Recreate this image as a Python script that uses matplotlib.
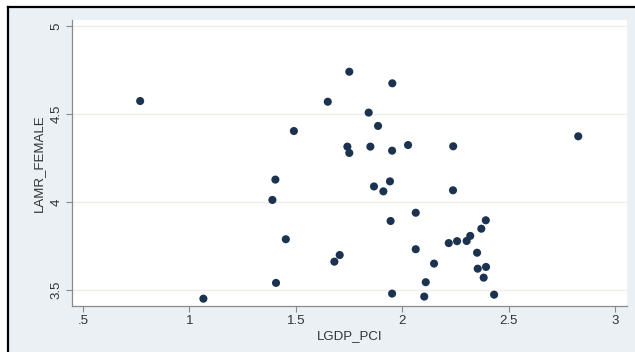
import matplotlib
matplotlib.use("Agg")
import matplotlib.pyplot as plt
from matplotlib.patches import Rectangle
from matplotlib.lines import Line2D

plt.rcParams['font.family'] = ['Liberation Sans', 'DejaVu Sans']

# values
lgdp_pci = [0.769, 1.066, 1.390, 1.404, 1.407, 1.453, 1.491, 1.650, 1.681, 1.706,
            1.742, 1.751, 1.751, 1.842, 1.850, 1.867, 1.886, 1.911, 1.942, 1.945,
            1.952, 1.953, 1.952, 2.027, 2.063, 2.063, 2.103, 2.110, 2.149, 2.218,
            2.238, 2.239, 2.257, 2.302, 2.319, 2.351, 2.354, 2.371, 2.382, 2.392,
            2.393, 2.431, 2.826]
lamr_female = [4.575, 3.448, 4.011, 4.127, 3.538, 3.787, 4.404, 4.571, 3.659, 3.697,
               4.315, 4.279, 4.742, 4.509, 4.315, 4.088, 4.433, 4.060, 4.117, 3.891,
               4.292, 4.676, 3.477, 4.324, 3.938, 3.730, 3.460, 3.542, 3.648, 3.765,
               4.066, 4.317, 3.776, 3.777, 3.806, 3.710, 3.619, 3.847, 3.568, 3.895,
               3.629, 3.471, 4.374]
x_ticks = [0.5, 1, 1.5, 2, 2.5, 3]
x_tick_labels = [".5", "1", "1.5", "2", "2.5", "3"]
y_ticks = [3.5, 4, 4.5, 5]
y_tick_labels = ["3.5", "4", "4.5", "5"]

W, H = 635, 352
fig = plt.figure(figsize=(W / 100, H / 100), dpi=100)
fig.patch.set_facecolor("white")

# graph region (light blue-grey) with black frame on top/left
bg = Rectangle((8 / W, 0), 1 - 8 / W, 1 - 7 / H, transform=fig.transFigure,
               facecolor="#eaf0f4", edgecolor="none", zorder=-5)
fig.patches.append(bg)
fig.add_artist(Line2D([8 / W, 1], [1 - 7 / H, 1 - 7 / H], transform=fig.transFigure,
                      color="black", lw=1.6, zorder=-4))
fig.add_artist(Line2D([8 / W, 8 / W], [0, 1 - 7 / H], transform=fig.transFigure,
                      color="black", lw=1.6, zorder=-4))

ax = fig.add_axes([72 / W, 1 - 305.7 / H, (627 - 72) / W, (305.7 - 20) / H])
ax.set_zorder(1)
ax.set_facecolor("white")
ax.scatter(lgdp_pci, lamr_female, s=34, color="#1c3350", edgecolors="none", zorder=3)

ax.set_xlim(0.449, 3.055)
ax.set_ylim(3.408, 5.037)
ax.set_xticks(x_ticks)
ax.set_xticklabels(x_tick_labels)
ax.set_yticks(y_ticks)
ax.set_yticklabels(y_tick_labels, rotation=90, va="center")

for y in y_ticks:
    ax.axhline(y, color="#f0eeea", lw=1.0, zorder=1)

for side in ["top", "right"]:
    ax.spines[side].set_visible(False)
for side in ["left", "bottom"]:
    ax.spines[side].set_color("#8a8a8a")
    ax.spines[side].set_linewidth(0.9)

ax.tick_params(axis="both", direction="out", length=4, width=0.8, color="#8a8a8a",
               labelsize=9.5, labelcolor="#333333", pad=3)

ax.set_xlabel("LGDP_PCI", fontsize=9.5, color="#333333", labelpad=2)
ax.set_ylabel("LAMR_FEMALE", fontsize=9.5, color="#333333", labelpad=4)

fig.savefig("out.png", dpi=100)
